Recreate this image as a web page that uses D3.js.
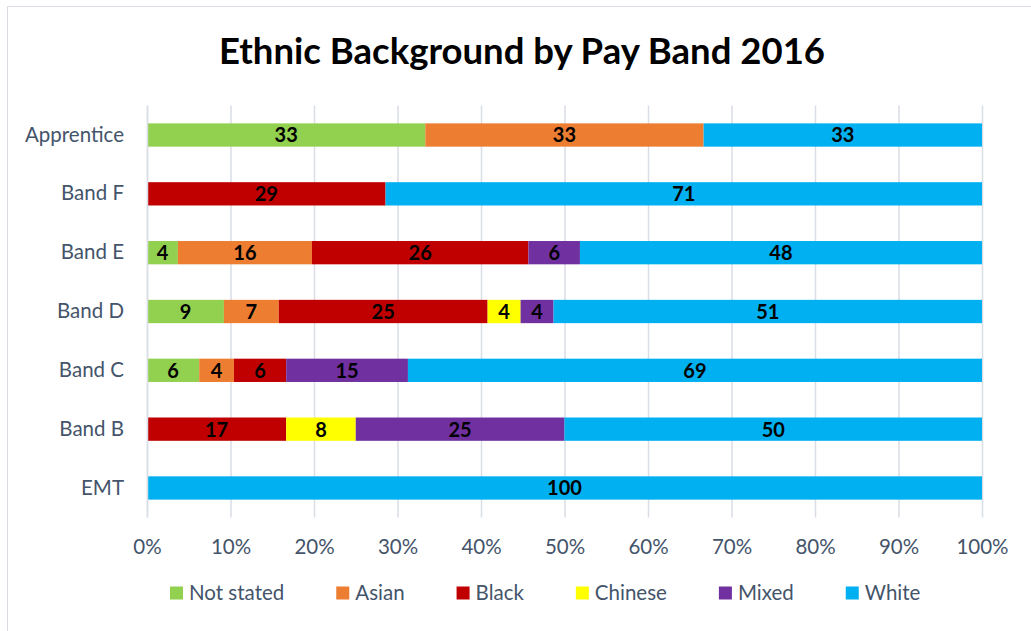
<!DOCTYPE html>
<html><head><meta charset="utf-8">
<script src="https://cdn.jsdelivr.net/npm/d3@7"></script>
<style>body{margin:0;background:#fff}svg{display:block}</style>
</head><body><div id="chart"></div>
<script>
const categories = ["Apprentice","Band F","Band E","Band D","Band C","Band B","EMT"];
const seriesNames = ["Not stated","Asian","Black","Chinese","Mixed","White"];
const colors = ["#92d050","#ed7d31","#c00000","#ffff00","#7030a0","#00b0f0"];
// percentages per series, in category order
const notStated = [33.33, 0, 3.70, 9.21, 6.25, 0, 0];
const asian     = [33.33, 0, 16.05, 6.58, 4.17, 0, 0];
const black     = [0, 28.57, 25.93, 25.00, 6.25, 16.67, 0];
const chinese   = [0, 0, 0, 3.95, 0, 8.33, 0];
const mixed     = [0, 0, 6.17, 3.95, 14.58, 25.00, 0];
const white     = [33.34, 71.43, 48.15, 51.31, 68.75, 50.00, 100];
const xTicks = [0,10,20,30,40,50,60,70,80,90,100];

const seriesValues = [notStated, asian, black, chinese, mixed, white];
const W = 1031, H = 631;
const margin = {left:147, right:49, top:105.6, bottom:113.6};
const font = "Lato, 'Open Sans', sans-serif";
const textColor = "#44546a";
const labelSize = 20.5;

const svg = d3.select("#chart").append("svg").attr("width", W).attr("height", H);
svg.append("rect").attr("x",7.5).attr("y",6.5).attr("width",W+10).attr("height",H+10)
  .attr("fill","#fff").attr("stroke","#d9dde3").attr("stroke-width",1);

svg.append("text").attr("x", 522).attr("y", 64).attr("text-anchor","middle")
  .attr("font-family", font).attr("font-weight","bold").attr("font-size",36.5)
  .attr("fill","#000").text("Ethnic Background by Pay Band 2016");

const x = d3.scaleLinear().domain([0,100]).range([margin.left, W-margin.right]);
const y = d3.scaleBand().domain(categories).range([margin.top, H-margin.bottom]).paddingInner(0.604).paddingOuter(0.302);

// gridlines
svg.append("g").selectAll("line").data(xTicks).join("line")
  .attr("x1", d=>x(d)+0.5).attr("x2", d=>x(d)+0.5)
  .attr("y1", margin.top).attr("y2", H-margin.bottom)
  .attr("stroke","#d9dde6").attr("stroke-width",1.5);

// x axis labels
const xAxis = d3.axisBottom(x).tickValues(xTicks).tickFormat(d=>d+"%").tickSize(0).tickPadding(0);
const gx = svg.append("g").attr("transform",`translate(0,${H-margin.bottom})`).call(xAxis);
gx.select(".domain").remove();
gx.selectAll("text").attr("font-family",font).attr("font-size",labelSize).attr("fill",textColor).attr("dy",0).attr("y",37);

// y axis labels
const yAxis = d3.axisLeft(y).tickSize(0).tickPadding(23);
const gy = svg.append("g").attr("transform",`translate(${margin.left},0)`).call(yAxis);
gy.select(".domain").remove();
gy.selectAll("text").attr("font-family",font).attr("font-size",labelSize).attr("fill",textColor);

// stacked bars
const rows = categories.map((c,i)=>{ const o={cat:c}; seriesNames.forEach((s,j)=>o[s]=seriesValues[j][i]); return o; });
const stack = d3.stack().keys(seriesNames)(rows);
const layers = svg.append("g").selectAll("g").data(stack).join("g").attr("fill",(d,i)=>colors[i]);
layers.selectAll("rect").data(d=>d.filter(p=>p[1]-p[0]>0)).join("rect")
  .attr("x", d=>x(d[0])).attr("width", d=>x(d[1])-x(d[0]))
  .attr("y", d=>y(d.data.cat)).attr("height", y.bandwidth());
layers.selectAll("text").data(d=>d.filter(p=>p[1]-p[0]>0)).join("text")
  .attr("x", d=>(x(d[0])+x(d[1]))/2).attr("y", d=>y(d.data.cat)+y.bandwidth()/2)
  .attr("dy","0.37em").attr("text-anchor","middle")
  .attr("font-family",font).attr("font-weight","bold").attr("font-size",20).attr("fill","#000")
  .text(d=>Math.round(d[1]-d[0]));

// left axis line
svg.append("line").attr("x1",margin.left+0.5).attr("x2",margin.left+0.5)
  .attr("y1",margin.top).attr("y2",H-margin.bottom).attr("stroke","#d9dde6").attr("stroke-width",1.5);

// legend
const lg = svg.append("g").attr("transform","translate(0,593)");
let cx = 170;
seriesNames.forEach((s,i)=>{
  const g = lg.append("g").attr("transform",`translate(${cx},0)`);
  g.append("rect").attr("x",0).attr("y",-6.5).attr("width",13).attr("height",13).attr("fill",colors[i]);
  const t = g.append("text").attr("x",19).attr("dy","0.36em").attr("font-family",font).attr("font-size",labelSize).attr("fill",textColor).text(s);
  cx += 19 + t.node().getComputedTextLength() + 52;
});
</script></body></html>
